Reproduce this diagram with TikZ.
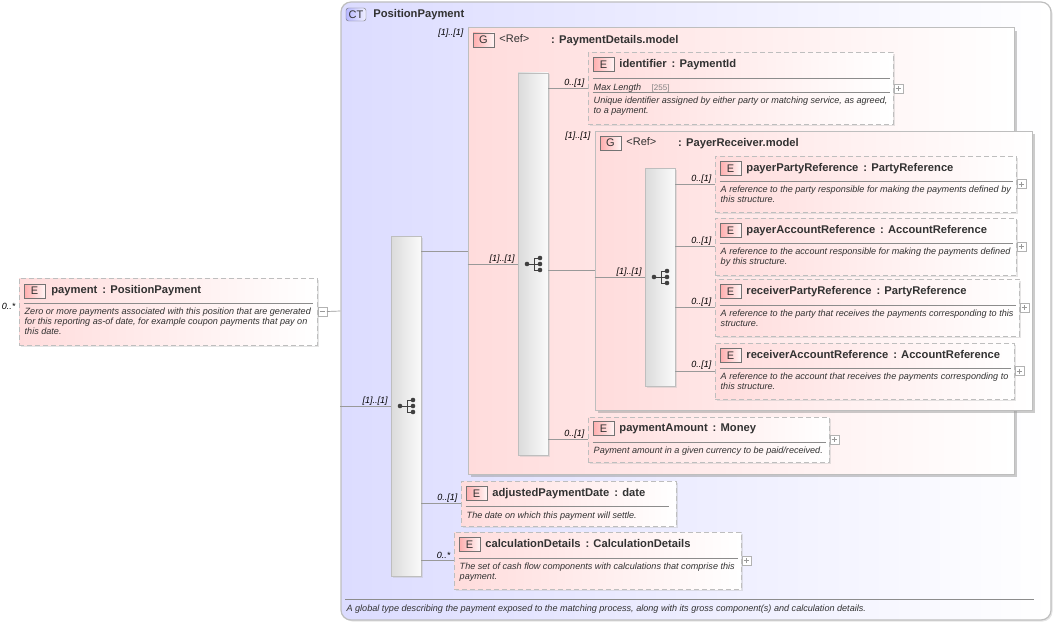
\documentclass[tikz,border=0pt]{standalone}
\usepackage{fontspec}
\setmainfont{Liberation Sans}
\usetikzlibrary{positioning, shadows}
\definecolor{ctblue}{RGB}{220,220,255}
\definecolor{elpink}{RGB}{255,220,220}
\definecolor{inkgrey}{RGB}{50,50,50}
\definecolor{edgegrey}{RGB}{190,190,190}

\begin{document}
\begin{tikzpicture}[x=1pt,y=-1pt,
    boxshadow/.style={drop shadow={shadow xshift=1.5pt,shadow yshift=-1.5pt,fill=black!25,opacity=.4}},
    ctbox/.style={draw=edgegrey,line width=1.2pt,rounded corners=10pt,left color=ctblue,right color=white,inner sep=0pt,boxshadow},
    groupbox/.style={draw=edgegrey,line width=1pt,left color=elpink,right color=white,inner sep=0pt,
        drop shadow={shadow xshift=3pt,shadow yshift=-3pt,fill=black!40,opacity=.5}},
    elbox/.style={draw=edgegrey,line width=1pt,dash pattern=on 5pt off 3pt,left color=elpink,right color=white,inner sep=0pt,boxshadow},
    seqbox/.style={draw=edgegrey,left color=black!14,right color=black!2,inner sep=0pt,minimum width=30pt,boxshadow},
    badge/.style={draw=black!55,left color=red!32,right color=red!4,inner sep=0pt,minimum width=21pt,minimum height=14pt,
        text=inkgrey,font=\fontsize{11}{13}\selectfont},
    ctbadge/.style={badge,rounded corners=2.5pt,left color=blue!28,right color=blue!6,minimum width=20pt,minimum height=13pt},
    nametext/.style={inner sep=0pt,text height=8pt,text depth=2.5pt,text=inkgrey,font=\fontsize{11.2}{13}\bfseries\selectfont},
    reftext/.style={inner sep=0pt,text height=8pt,text depth=2.5pt,text=inkgrey,font=\fontsize{11}{13}\selectfont},
    desc/.style={anchor=north west,inner sep=0pt,align=left,execute at begin node=\rule{0pt}{7.5pt},text=inkgrey,font=\fontsize{9.08}{10}\itshape\selectfont},
    card/.style={inner sep=0pt,text=black,font=\fontsize{9}{10}\itshape\selectfont},
    rulegrey/.style={draw=black!45,line width=.7pt},
    conn/.style={draw=black!40,line width=.7pt},
    minusbox/.style={draw=black!30,fill=white,anchor=west,inner sep=0pt,minimum size=9pt,
        path picture={\draw[black!40] ([xshift=2pt]path picture bounding box.west) -- ([xshift=-2pt]path picture bounding box.east);}},
    plusbox/.style={minusbox,
        path picture={\draw[black!40] ([xshift=2pt]path picture bounding box.west) -- ([xshift=-2pt]path picture bounding box.east);
                      \draw[black!40] ([yshift=-2pt]path picture bounding box.north) -- ([yshift=2pt]path picture bounding box.south);}},
    seqicon/.pic={
        \draw[black!75,line width=.8pt] (-6,0) -- (7,0) (7,-6) -- (1,-6) -- (1,6) -- (7,6);
        \fill[black!75] (-6,0) circle (2.3pt) (7,-6) circle (2.3pt) (7,0) circle (2.3pt) (7,6) circle (2.3pt);
    }]
    \useasboundingbox (0,0) rectangle (1056,623);

    % type
    \node[ctbox,minimum width=710pt,minimum height=618pt] (ct) at (696,311) {};
    \node[ctbadge] (ctb) at (356,14.5) {CT};
    \node[nametext,right=7pt of ctb] (ctname) {PositionPayment};

    % top element
    \node[elbox,minimum width=298pt,minimum height=67pt] (pay) at (168,311.5) {};
    \node[badge] (payb) at ([shift={(16,13.5)}]pay.north west) {E};
    \node[nametext,right=6pt of payb] (payname) {payment\, : PositionPayment};
    \draw[rulegrey] ([shift={(5,26)}]pay.north west) -- ([shift={(-5,26)}]pay.north east);
    \node[desc] (paydesc) at ([shift={(6,30)}]pay.north west) {Zero or more payments associated with this position that are generated\\for this reporting as-of date, for example coupon payments that pay on\\this date.};
    \node[minusbox] (paym) at (pay.east) {};
    \node[card,above left=2pt and 3pt of pay.west] (paycard) {0..*};

    % outer sequence
    \node[seqbox,minimum height=340pt] (seq1) at (406,406) {};
    \pic at (seq1.center) {seqicon};
    \node[card,above left=.5pt and 3pt of seq1.west] (seq1card) {[1]..[1]};

    % PaymentDetails group
    \node[groupbox,minimum width=546pt,minimum height=446pt] (grp1) at (741,251) {};
    \node[badge] (grp1b) at ([shift={(16,12.5)}]grp1.north west) {G};
    \node[reftext,right=5pt of grp1b] (grp1ref) {<Ref>};
    \node[nametext,anchor=west] (grp1name) at (551,41) {: PaymentDetails.model};
    \node[card,below left=1pt and 4pt of grp1.north west] (grp1card) {[1]..[1]};

    \node[seqbox,minimum height=382pt] (seq2) at (533,264) {};
    \pic at (seq2.center) {seqicon};
    \node[card,above left=.5pt and 3pt of seq2.west] (seq2card) {[1]..[1]};

    % identifier
    \node[elbox,minimum width=305pt,minimum height=71pt] (idn) at (740.5,88.5) {};
    \node[badge] (idnb) at ([shift={(16,12)}]idn.north west) {E};
    \node[nametext,right=5pt of idnb] (idnname) {identifier\, : PaymentId};
    \draw[rulegrey] ([shift={(5,26)}]idn.north west) -- ([shift={(-4,26)}]idn.north east);
    \node[desc] (idnmax) at ([shift={(6,30)}]idn.north west) {Max Length};
    \node[desc,text=black!50,font=\fontsize{8}{10}\selectfont] (idnlen) at ([shift={(64,30)}]idn.north west) {[255]};
    \draw[rulegrey] ([shift={(5,40)}]idn.north west) -- ([shift={(-4,40)}]idn.north east);
    \node[desc] (idndesc) at ([shift={(6,44)}]idn.north west) {Unique identifier assigned by either party or matching service, as agreed,\\to a payment.};
    \node[plusbox] (idnp) at (idn.east) {};
    \node[card,above left=1pt and 3pt of idn.west] (idncard) {0..[1]};

    % PayerReceiver group
    \node[groupbox,minimum width=437pt,minimum height=279pt] (grp2) at (813.5,270.5) {};
    \node[badge] (grp2b) at ([shift={(16,12.5)}]grp2.north west) {G};
    \node[reftext,right=5pt of grp2b] (grp2ref) {<Ref>};
    \node[nametext,anchor=west] (grp2name) at (678,144) {: PayerReceiver.model};
    \node[card,below left=1pt and 4pt of grp2.north west] (grp2card) {[1]..[1]};

    \node[seqbox,minimum height=218pt] (seq3) at (660,277) {};
    \pic at (seq3.center) {seqicon};
    \node[card,above left=.5pt and 3pt of seq3.west] (seq3card) {[1]..[1]};

    % payerPartyReference
    \node[elbox,minimum width=301pt,minimum height=56pt] (ppr) at (865.5,184) {};
    \node[badge] (pprb) at ([shift={(16,13)}]ppr.north west) {E};
    \node[nametext,right=5pt of pprb] (pprname) {payerPartyReference\, : PartyReference};
    \draw[rulegrey] ([shift={(5,26)}]ppr.north west) -- ([shift={(-4,26)}]ppr.north east);
    \node[desc] (pprdesc) at ([shift={(6,30)}]ppr.north west) {A reference to the party responsible for making the payments defined by\\this structure.};
    \node[plusbox] (pprp) at (ppr.east) {};
    \node[card,above left=.5pt and 3pt of ppr.west] (pprcard) {0..[1]};

    % payerAccountReference
    \node[elbox,minimum width=301pt,minimum height=57pt] (par) at (865.5,246.5) {};
    \node[badge] (parb) at ([shift={(16,13)}]par.north west) {E};
    \node[nametext,right=5pt of parb] (parname) {payerAccountReference\, : AccountReference};
    \draw[rulegrey] ([shift={(5,26)}]par.north west) -- ([shift={(-4,26)}]par.north east);
    \node[desc] (pardesc) at ([shift={(6,30)}]par.north west) {A reference to the account responsible for making the payments defined\\by this structure.};
    \node[plusbox] (parp) at (par.east) {};
    \node[card,above left=1pt and 3pt of par.west] (parcard) {0..[1]};

    % receiverPartyReference
    \node[elbox,minimum width=304pt,minimum height=57pt] (rpr) at (867,307.5) {};
    \node[badge] (rprb) at ([shift={(16,13)}]rpr.north west) {E};
    \node[nametext,right=5pt of rprb] (rprname) {receiverPartyReference\, : PartyReference};
    \draw[rulegrey] ([shift={(5,27)}]rpr.north west) -- ([shift={(-4,27)}]rpr.north east);
    \node[desc] (rprdesc) at ([shift={(6,31)}]rpr.north west) {A reference to the party that receives the payments corresponding to this\\structure.};
    \node[plusbox] (rprp) at (rpr.east) {};
    \node[card,above left=1pt and 3pt of rpr.west] (rprcard) {0..[1]};

    % receiverAccountReference
    \node[elbox,minimum width=299pt,minimum height=56pt] (rar) at (864.5,371) {};
    \node[badge] (rarb) at ([shift={(16,13)}]rar.north west) {E};
    \node[nametext,right=5pt of rarb] (rarname) {receiverAccountReference\, : AccountReference};
    \draw[rulegrey] ([shift={(5,26)}]rar.north west) -- ([shift={(-4,26)}]rar.north east);
    \node[desc] (rardesc) at ([shift={(6,30)}]rar.north west) {A reference to the account that receives the payments corresponding to\\this structure.};
    \node[plusbox] (rarp) at (rar.east) {};
    \node[card,above left=1.5pt and 3pt of rar.west] (rarcard) {0..[1]};

    % paymentAmount
    \node[elbox,minimum width=241pt,minimum height=45pt] (amt) at (708.5,439.5) {};
    \node[badge] (amtb) at ([shift={(16,12)}]amt.north west) {E};
    \node[nametext,right=5pt of amtb] (amtname) {paymentAmount\, : Money};
    \draw[rulegrey] ([shift={(5,26)}]amt.north west) -- ([shift={(-4,26)}]amt.north east);
    \node[desc] (amtdesc) at ([shift={(6,29.5)}]amt.north west) {Payment amount in a given currency to be paid/received.};
    \node[plusbox] (amtp) at (amt.east) {};
    \node[card,above left=1pt and 3pt of amt.west] (amtcard) {0..[1]};

    % adjustedPaymentDate
    \node[elbox,minimum width=215pt,minimum height=45pt] (adj) at (568.5,503.5) {};
    \node[badge] (adjb) at ([shift={(16,13)}]adj.north west) {E};
    \node[nametext,right=5pt of adjb] (adjname) {adjustedPaymentDate\, : date};
    \draw[rulegrey] ([shift={(5,26)}]adj.north west) -- ([shift={(-8,26)}]adj.north east);
    \node[desc] (adjdesc) at ([shift={(6,30)}]adj.north west) {The date on which this payment will settle.};
    \node[card,above left=1pt and 3pt of adj.west] (adjcard) {0..[1]};

    % calculationDetails
    \node[elbox,minimum width=287pt,minimum height=57pt] (cal) at (597.5,560.5) {};
    \node[badge] (calb) at ([shift={(16,13)}]cal.north west) {E};
    \node[nametext,right=5pt of calb] (calname) {calculationDetails\, : CalculationDetails};
    \draw[rulegrey] ([shift={(5,27)}]cal.north west) -- ([shift={(-4,27)}]cal.north east);
    \node[desc] (caldesc) at ([shift={(6,31)}]cal.north west) {The set of cash flow components with calculations that comprise this\\payment.};
    \node[plusbox] (calp) at (cal.east) {};
    \node[card,above left=2pt and 3pt of cal.west] (calcard) {0..*};

    % footer of the type
    \draw[rulegrey] ([shift={(5,598)}]ct.north west) -- ([shift={(-18,598)}]ct.north east);
    \node[desc] (ctdesc) at ([shift={(6,602)}]ct.north west) {A global type describing the payment exposed to the matching process, along with its gross component(s) and calculation details.};

    % connectors
    \path[conn] (paym.east) -- (ct.west);
    \path[conn] (ct.west |- seq1.west) -- (seq1.west);
    \path[conn] (seq1.east |- grp1.west) -- (grp1.west);
    \path[conn] (seq1.east |- adj.west) -- (adj.west);
    \path[conn] (seq1.east |- cal.west) -- (cal.west);
    \path[conn] (grp1.west |- seq2.west) -- (seq2.west);
    \path[conn] (seq2.east |- idn.west) -- (idn.west);
    \path[conn] (seq2.east |- grp2.west) -- (grp2.west);
    \path[conn] (seq2.east |- amt.west) -- (amt.west);
    \path[conn] (grp2.west |- seq3.west) -- (seq3.west);
    \path[conn] (seq3.east |- ppr.west) -- (ppr.west);
    \path[conn] (seq3.east |- par.west) -- (par.west);
    \path[conn] (seq3.east |- rpr.west) -- (rpr.west);
    \path[conn] (seq3.east |- rar.west) -- (rar.west);
\end{tikzpicture}
\end{document}
